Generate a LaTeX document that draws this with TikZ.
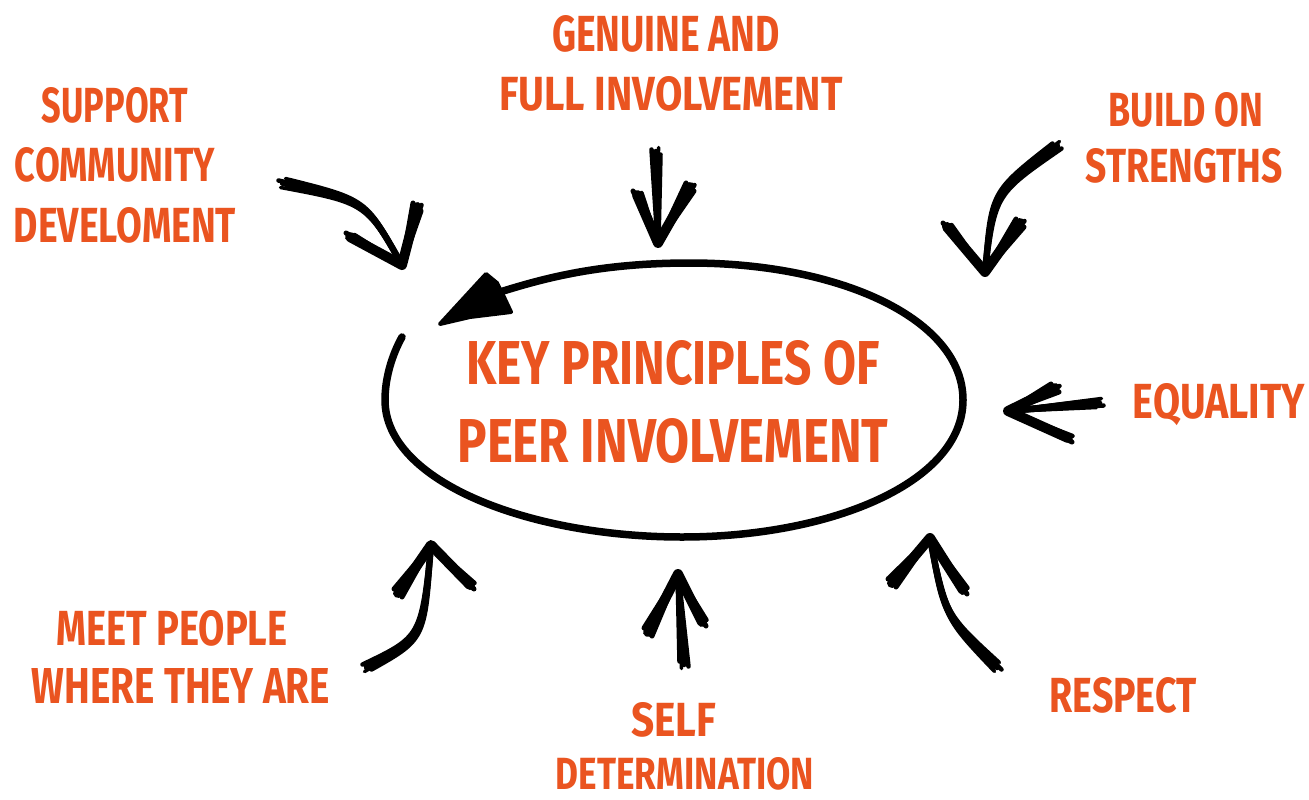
\documentclass[tikz,border=0pt]{standalone}
\usepackage{fontspec}
\setmainfont{Fira Sans}
\usepackage{graphicx}
\definecolor{orng}{RGB}{234,84,32}
\tikzset{
  lbl/.style={text=orng, inner sep=0pt, outer sep=0pt, anchor=base, font=\bfseries},
  sk/.style={draw=black, line cap=round, line join=round},
}
\newcommand{\lbltext}[3]{\resizebox{#1pt}{#2pt}{#3}}
% sketchy arrow: #1 tail, #2 control, #3 tip, #4 arm one, #5 arm two
\newcommand{\skarrow}[5]{%
  \foreach \dx/\dy/\w in {0/0/6.5, 4.5/2.5/4.5, -4.5/-2.5/4.5, 2.5/-4.5/3.5, -2.5/4.5/3.5}{%
    \draw[sk, line width=\w pt] ([shift={(\dx,\dy)}]#1) .. controls ([shift={(0.5*\dx,0.5*\dy)}]#2) .. ([shift={(0.1*\dx,0.1*\dy)}]#3);
  }%
  \foreach \dx/\dy/\w in {0/0/10, 4/4/5, -4/-4/5, 4.5/-2/4.5}{%
    \draw[sk, line width=\w pt] ([shift={(\dx,\dy)}]#4) -- (#3) -- ([shift={(\dx,\dy)}]#5);
  }%
}
\begin{document}
\begin{tikzpicture}[x=1pt,y=-1pt]
\fill[white] (0,0) rectangle (1309,800);
\useasboundingbox (0,0) rectangle (1309,800);

% ---- central ellipse with arrow ----
\coordinate (e0) at (402,337);
\coordinate (e1) at (500,292);
\coordinate (etip) at (440,324);
\draw[sk, line width=7.5pt] (e0) .. controls (392,355) and (385,378) .. (385,400)
  .. controls (385,482) and (530,537) .. (682,537)
  .. controls (832,537) and (963,482) .. (963,400)
  .. controls (963,320) and (842,263) .. (690,263)
  .. controls (600,263) and (545,278) .. (e1);
\fill[sk, line width=4pt] (etip) -- (486,274) -- (497,283) -- (503,295) -- (511,312) -- (470,317) -- cycle;

\node[lbl] (c1) at (673,384) {\lbltext{413}{44}{KEY PRINCIPLES OF}};
\node[lbl] (c2) at (673,462) {\lbltext{431}{44}{PEER INVOLVEMENT}};

% ---- labels ----
\node[lbl] (sup1) at (115,122) {\lbltext{146}{35}{SUPPORT}};
\node[lbl] (sup2) at (115,181) {\lbltext{200}{34}{COMMUNITY}};
\node[lbl] (sup3) at (125,242) {\lbltext{222}{35}{DEVELOMENT}};

\node[lbl] (gen1) at (666,52) {\lbltext{228}{36}{GENUINE AND}};
\node[lbl] (gen2) at (671,110) {\lbltext{343}{34}{FULL INVOLVEMENT}};

\node[lbl] (bld1) at (1186,126) {\lbltext{155}{34}{BUILD ON}};
\node[lbl] (bld2) at (1184,182) {\lbltext{197}{34}{STRENGTHS}};

\node[lbl] (equ) at (1219,418) {\lbltext{172}{35}{EQUALITY}};
\node[lbl] (res) at (1123,712) {\lbltext{147}{35}{RESPECT}};

\node[lbl] (slf1) at (674,736) {\lbltext{85}{34}{SELF}};
\node[lbl] (slf2) at (685,789) {\lbltext{258}{32}{DETERMINATION}};

\node[lbl] (mt1) at (172,645) {\lbltext{231}{35}{MEET PEOPLE}};
\node[lbl] (mt2) at (181,703) {\lbltext{298}{35}{WHERE THEY ARE}};

% ---- sketch arrows ----
\coordinate (a1t) at (283,183); \coordinate (a1c) at (366,201); \coordinate (a1h) at (402,265);
\coordinate (a1l) at (350,237); \coordinate (a1r) at (417,207);
\skarrow{a1t}{a1c}{a1h}{a1l}{a1r}

\coordinate (a2t) at (656,152); \coordinate (a2c) at (657,198); \coordinate (a2h) at (658,243);
\coordinate (a2l) at (637,195); \coordinate (a2r) at (690,187);
\skarrow{a2t}{a2c}{a2h}{a2l}{a2r}

\coordinate (a3t) at (1057,146); \coordinate (a3c) at (993,193); \coordinate (a3h) at (985,272);
\coordinate (a3l) at (947,227); \coordinate (a3r) at (1020,223);
\skarrow{a3t}{a3c}{a3h}{a3l}{a3r}

\coordinate (a4t) at (1099,403); \coordinate (a4c) at (1053,407); \coordinate (a4h) at (1008,411);
\coordinate (a4l) at (1055,388); \coordinate (a4r) at (1068,438);
\skarrow{a4t}{a4c}{a4h}{a4l}{a4r}

\coordinate (a5t) at (997,667); \coordinate (a5c) at (945,616); \coordinate (a5h) at (930,538);
\coordinate (a5l) at (892,583); \coordinate (a5r) at (963,590);
\skarrow{a5t}{a5c}{a5h}{a5l}{a5r}

\coordinate (a6t) at (684,664); \coordinate (a6c) at (681,619); \coordinate (a6h) at (678,574);
\coordinate (a6l) at (648,632); \coordinate (a6r) at (702,622);
\skarrow{a6t}{a6c}{a6h}{a6l}{a6r}

\coordinate (a7t) at (367,667); \coordinate (a7c) at (423,638); \coordinate (a7h) at (431,545);
\coordinate (a7l) at (398,593); \coordinate (a7r) at (470,585);
\skarrow{a7t}{a7c}{a7h}{a7l}{a7r}
\end{tikzpicture}
\end{document}
